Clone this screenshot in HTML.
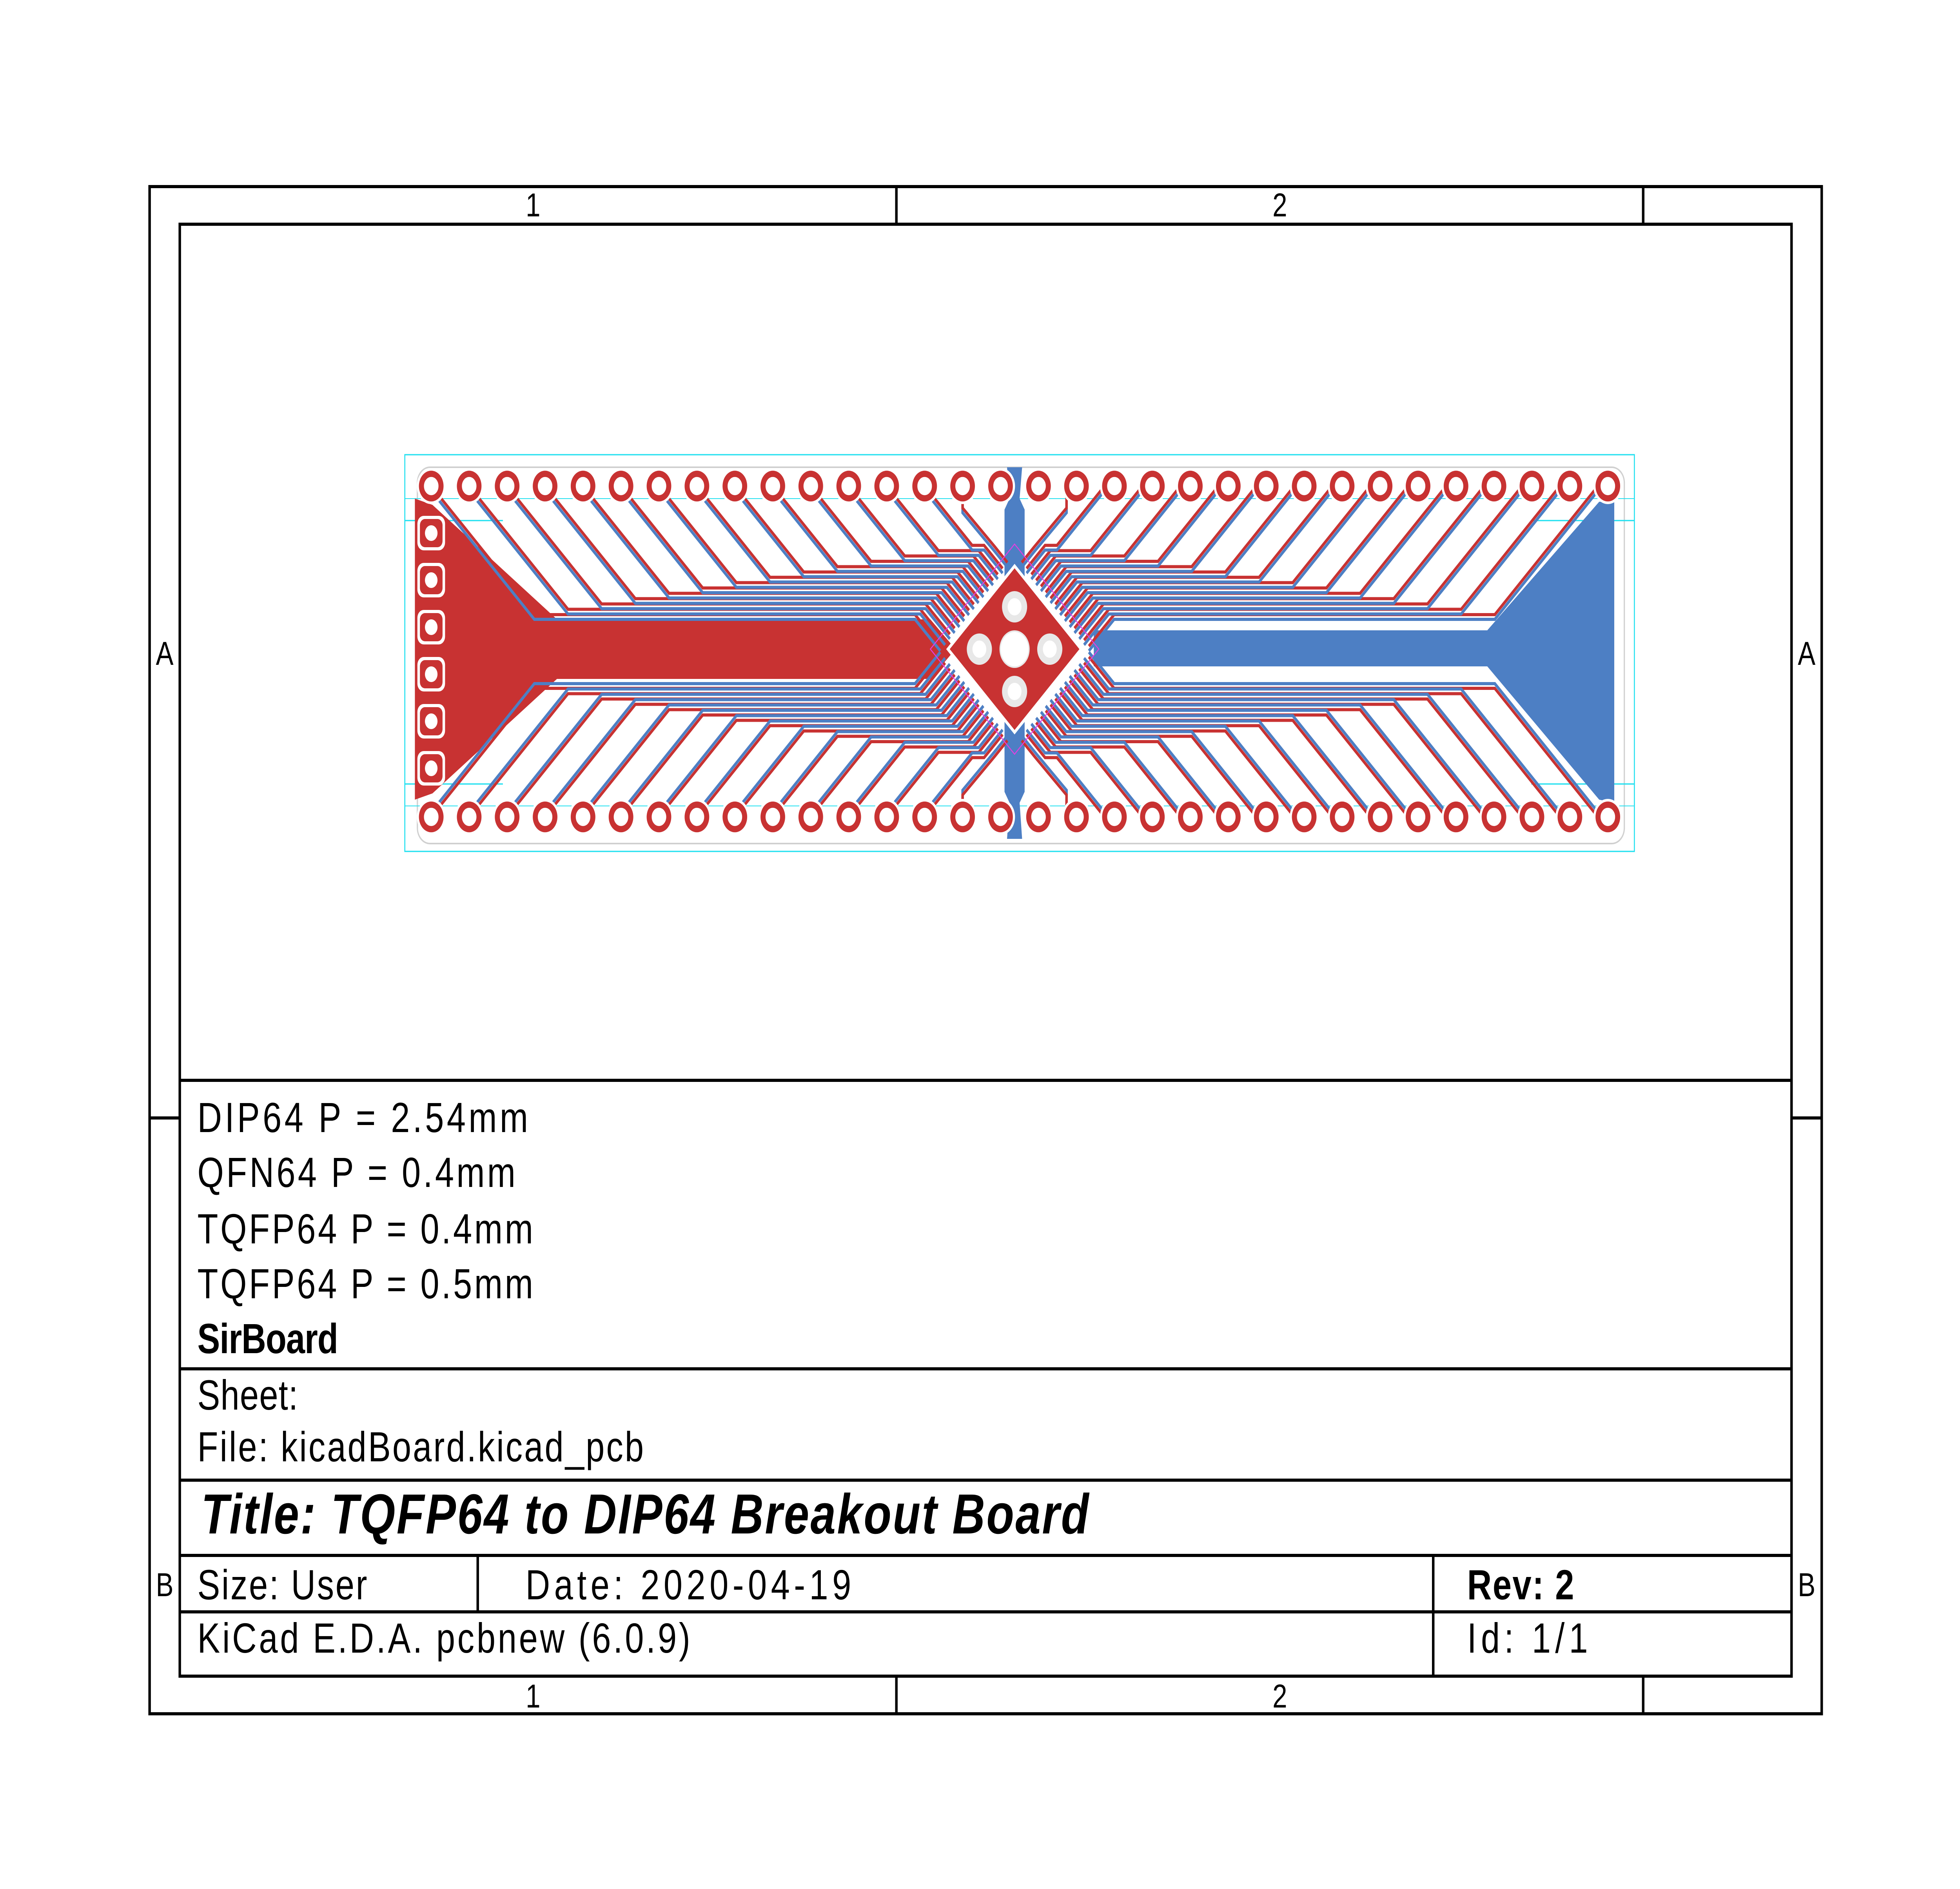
<!DOCTYPE html>
<html><head><meta charset="utf-8">
<style>
html,body{margin:0;padding:0;background:#fff;width:100%;height:100%;overflow:hidden;}
svg{display:block;width:100vw;height:100vh;}
text{font-family:"Liberation Sans",sans-serif;fill:#000;}
</style></head>
<body>
<svg id="sheet" xmlns="http://www.w3.org/2000/svg" viewBox="0 0 1559 1204.75" preserveAspectRatio="none">
<g fill="none" stroke="#000" stroke-width="2">
  <rect x="119" y="119" width="1330" height="974"/>
  <rect x="143" y="143" width="1282" height="926"/>
  <line x1="713" y1="119" x2="713" y2="143"/><line x1="1307" y1="119" x2="1307" y2="143"/>
  <line x1="713" y1="1069" x2="713" y2="1093"/><line x1="1307" y1="1069" x2="1307" y2="1093"/>
  <line x1="119" y1="713" x2="143" y2="713"/><line x1="1425" y1="713" x2="1449" y2="713"/>
  <line x1="143" y1="689" x2="1425" y2="689"/>
  <line x1="143" y1="873" x2="1425" y2="873"/>
  <line x1="143" y1="944" x2="1425" y2="944"/>
  <line x1="143" y1="992" x2="1425" y2="992"/>
  <line x1="143" y1="1028" x2="1425" y2="1028"/>
  <line x1="380" y1="992" x2="380" y2="1028"/>
  <line x1="1140" y1="992" x2="1140" y2="1069"/>
</g>
<g font-size="21" text-anchor="middle">
  <text x="424" y="138">1</text><text x="1018" y="138">2</text>
  <text x="424" y="1089">1</text><text x="1018" y="1089">2</text>
  <text x="131" y="424">A</text><text x="1437" y="424">A</text>
  <text x="131" y="1018">B</text><text x="1437" y="1018">B</text>
</g>
<g font-size="27">
  <text x="157" y="722" textLength="263" lengthAdjust="spacing">DIP64 P = 2.54mm</text>
  <text x="157" y="757" textLength="253" lengthAdjust="spacing">QFN64 P = 0.4mm</text>
  <text x="157" y="793" textLength="267" lengthAdjust="spacing">TQFP64 P = 0.4mm</text>
  <text x="157" y="828" textLength="267" lengthAdjust="spacing">TQFP64 P = 0.5mm</text>
  <text x="157" y="863" font-weight="bold" textLength="112" lengthAdjust="spacing">SirBoard</text>
  <text x="157" y="899" textLength="80" lengthAdjust="spacing">Sheet:</text>
  <text x="157" y="932" textLength="355" lengthAdjust="spacing">File: kicadBoard.kicad_pcb</text>
  <text x="160" y="978" font-size="36" font-weight="bold" font-style="italic" textLength="706" lengthAdjust="spacing">Title: TQFP64 to DIP64 Breakout Board</text>
  <text x="157" y="1020" textLength="135" lengthAdjust="spacing">Size: User</text>
  <text x="418" y="1020" textLength="259" lengthAdjust="spacing">Date: 2020-04-19</text>
  <text x="1167" y="1020" font-weight="bold" textLength="85" lengthAdjust="spacing">Rev: 2</text>
  <text x="157" y="1054" textLength="392" lengthAdjust="spacing">KiCad E.D.A.  pcbnew (6.0.9)</text>
  <text x="1167" y="1054" textLength="96" lengthAdjust="spacing">Id: 1/1</text>
</g>
<g id="pcb"></g>
</svg>
<script>
const NS='http://www.w3.org/2000/svg';
const padCount=32;
const padPitch=30.19;
const padX0=343;
const topY=310, botY=521;
const sidePadYs=[340,370,400,430,460,490];
const viaOffsets=[[0,0],[0,-27],[0,27],[-28,0],[28,0]];
const g=document.getElementById('pcb');
function el(tag,attrs,parent){const e=document.createElementNS(NS,tag);for(const k in attrs)e.setAttribute(k,attrs[k]);(parent||g).appendChild(e);return e;}
const RED='#C83232',BLUE='#4D7FC4',CY='#22E0F0';
let o=el('rect',{x:322,y:290,width:978,height:253,fill:'none',stroke:CY,'stroke-width':0.8});


let b=el('rect',{x:332,y:298,width:960,height:240,rx:10,fill:'none',stroke:'#d0d0d0','stroke-width':1});


[[322,332,400,332],[1218,332,1300,332],[322,500,400,500],[1218,500,1300,500]].forEach(l=>{el('line',{x1:l[0],y1:l[1],x2:l[2],y2:l[3],stroke:CY,'stroke-width':0.8});});
el('line',{x1:322,y1:318,x2:1300,y2:318,stroke:CY,'stroke-width':0.5});
el('line',{x1:322,y1:514,x2:1300,y2:514,stroke:CY,'stroke-width':0.5});
let rp=el('path',{d:'M330,318 L344,322 L443,395 L740,395 L760,414 L740,433 L443,433 L344,506 L330,510 Z',fill:RED});


let bp=el('path',{d:'M1284,320 L1272,320 L1183,402 L870,402 L870,425 L1183,425 L1272,510 L1284,512 Z',fill:BLUE});


let vb=el('path',{d:'M801,298 L813,298 L811,318 L815,325 L815,505 L811,512 L813,535 L801,535 L803,512 L799,505 L799,325 L803,318 Z',fill:BLUE});


const cx=807, cy=415.5, half=53;
function quadTraces(sx,sy){
  const tg=el('g',{transform:`translate(${cx},${cy}) scale(${sx},${sy}) translate(${-cx},${-cy})`});
  
  
  for(let i=0;i<15;i++){
    const px=padX0+padPitch*i;
    const t=(i+0.5)/16;
    const ex=(cx-half-8)+(half+8)*t, ey=(414)-(half+8)*t;
    const qx=ex-10, qy=ey-10;
    let yh=Math.min(392-i*3.4,qy-4);
    const cxh=qx-(qy-yh);
    const dx=px+(yh-topY);
    let d;
    if(dx<cxh-2) d=`M${px},${topY} L${dx},${yh} L${cxh},${yh} L${qx},${qy} L${ex},${ey}`;
    else d=`M${px},${topY} L${px},${topY+14} L${qx},${qy} L${ex},${ey}`;
    el('path',{d:d,fill:'none',stroke:BLUE,'stroke-width':2,transform:'translate(0,3)'},tg);
    const p=el('path',{d:d,fill:'none',stroke:RED,'stroke-width':2},tg);
    
    
  }
}
quadTraces(1,1);quadTraces(-1,1);quadTraces(1,-1);quadTraces(-1,-1);
el('path',{d:`M${cx},${414-half-14} L${cx+half+14},414 L${cx},${414+half+14} L${cx-half-14},414 Z`,fill:'none',stroke:'#e040e0','stroke-width':0.7});
let dm=el('path',{d:`M${cx},${414-half} L${cx+half},414 L${cx},${414+half} L${cx-half},414 Z`,fill:RED,stroke:'#fff','stroke-width':2});


viaOffsets.forEach((v,k)=>{
  const c=el('circle',{cx:cx+v[0],cy:414+v[1],r:k==0?12:10,fill:'#e8e8e8'});
  
  
  el('circle',{cx:cx+v[0],cy:414+v[1],r:k==0?11:5.5,fill:'#fff'});
});
for(let i=0;i<padCount;i++){
  const x=padX0+padPitch*i;
  [topY,botY].forEach(y=>{
    el('circle',{cx:x,cy:y,r:11.5,fill:'#fff'});
    const p=el('circle',{cx:x,cy:y,r:7.8,fill:'#fff',stroke:RED,'stroke-width':4});
    
    
  });
}
sidePadYs.forEach(y=>{
  el('rect',{x:332,y:y-11,width:22,height:22,rx:5,fill:'#fff'});
  const p=el('rect',{x:334,y:y-9,width:18,height:18,rx:4,fill:RED});
  
  
  el('circle',{cx:343,cy:y,r:5,fill:'#fff'});
});
</script>
</body></html>
